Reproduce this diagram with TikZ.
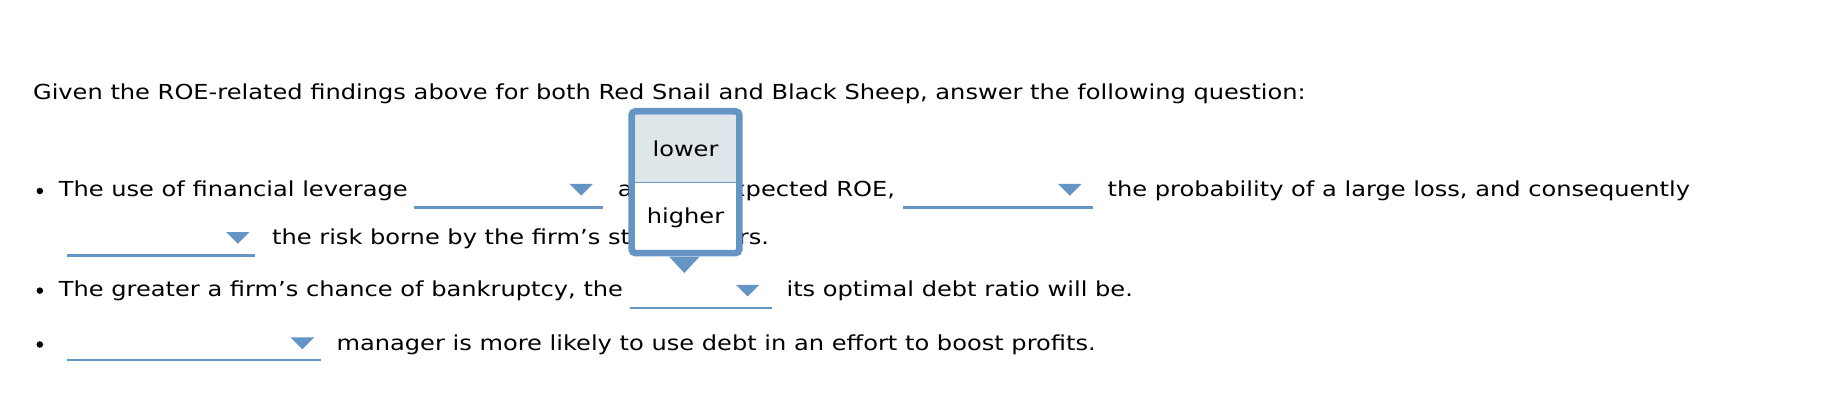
\documentclass[tikz,border=0pt]{standalone}
\usepackage{fontspec}
\setmainfont{DejaVu Sans}[FakeStretch=1.167]
\definecolor{dd}{HTML}{6495C4}
\definecolor{sel}{HTML}{DFE6E9}
\begin{document}
\begin{tikzpicture}[x=0.879pt,y=-0.879pt,
  txt/.style={anchor=base west,inner sep=0pt,font=\fontsize{15.5}{18}\selectfont},
  txr/.style={anchor=base east,inner sep=0pt,font=\fontsize{15.5}{18}\selectfont},
  ddline/.style={draw=dd,line width=1.8pt},
  tri/.style={fill=dd,draw=none}]
\useasboundingbox (0,0) rectangle (1560,355);
\node[txt] (t0) at (28,85) {Given the ROE-related findings above for both Red Snail and Black Sheep, answer the following question:};
\foreach \y/\n in {168/b1,253/b2,299/b3} \fill (34,\y-5) circle (2.8);
\node[txt] (t1) at (50,168) {The use of financial leverage};
\draw[ddline] (353,177) -- (515,177);
\fill[dd] (486,157) -- (506,157) -- (496,167) -- cycle;
\node[txt] (t2) at (527,168) {a};
\node[txr] (t3) at (764,168) {expected ROE,};
\draw[ddline] (771,177) -- (933,177);
\fill[dd] (903,157) -- (923,157) -- (913,167) -- cycle;
\node[txt] (t4) at (945,168) {the probability of a large loss, and consequently};
\draw[ddline] (57,218) -- (218,218);
\fill[dd] (193,198) -- (213,198) -- (203,208) -- cycle;
\node[txt] (t5) at (232,209) {the risk borne by the firm’s stockholders.};
\node[txt] (t7) at (50,253) {The greater a firm’s chance of bankruptcy, the};
\draw[ddline] (538,263) -- (659,263);
\fill[dd] (628,243) -- (648,243) -- (638,253) -- cycle;
\node[txt] (t8) at (671,253) {its optimal debt ratio will be.};
\draw[ddline] (57,307) -- (274,307);
\fill[dd] (248,288) -- (268,288) -- (258,298) -- cycle;
\node[txt] (t9) at (287,299) {manager is more likely to use debt in an effort to boost profits.};
% popup
\fill[dd] (571,219) -- (597,219) -- (584,233) -- cycle;
\filldraw[fill=white,draw=dd,line width=5pt,rounded corners=3pt] (539,95) rectangle (631,216);
\fill[sel] (542,98) rectangle (628,156);
\draw[dd,line width=1pt] (541,156) -- (629,156);
\node[font=\fontsize{15.5}{18}\selectfont,inner sep=0pt] (lo) at (585,127) {lower};
\node[font=\fontsize{15.5}{18}\selectfont,inner sep=0pt] (hi) at (585,186) {higher};
\end{tikzpicture}
\end{document}
